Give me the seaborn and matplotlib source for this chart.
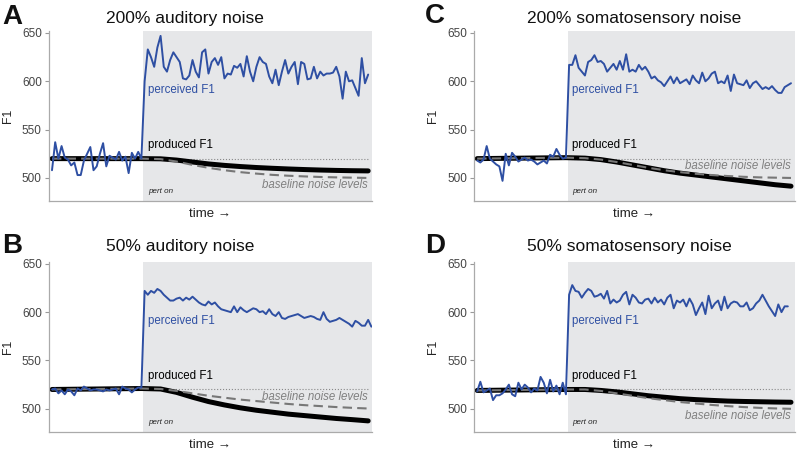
import numpy as np
import pandas as pd
import matplotlib
matplotlib.use('Agg')
import matplotlib.pyplot as plt
import seaborn as sns

sns.set_style('white')
plt.rcParams['font.family'] = ['Liberation Sans', 'DejaVu Sans']

PERT_ON = 29.5
BASE_F1 = 520

# perceived F1 per trial, before (29 trials) and after the perturbation
a_pre = [508, 537, 520, 533, 521, 519, 513, 516, 503, 503,
         518, 525, 532, 508, 512, 525, 536, 512, 523, 521,
         519, 527, 518, 522, 505, 526, 520, 527, 520]
a_post = [600, 633, 625, 615, 635, 647, 615, 610, 622, 630, 625,
          620, 603, 602, 606, 622, 610, 604, 630, 633, 608,
          620, 624, 617, 625, 603, 608, 607, 616, 614, 618,
          605, 626, 610, 600, 615, 625, 620, 618, 605, 598,
          612, 596, 610, 622, 608, 615, 620, 597, 620, 618,
          602, 603, 615, 603, 610, 606, 608, 608, 609, 615,
          605, 582, 610, 600, 601, 593, 585, 624, 598, 607]

b_pre = [520, 521, 516, 519, 515, 520, 518, 514, 521, 519,
         523, 521, 519, 520, 520, 519, 518, 520, 519, 520,
         521, 515, 523, 521, 520, 517, 520, 522, 522]
b_post = [622, 618, 622, 620, 624, 622, 618, 615, 612, 612, 614,
          615, 612, 615, 613, 616, 613, 610, 608, 607, 611,
          608, 610, 606, 603, 602, 601, 600, 606, 600, 605,
          602, 600, 602, 604, 603, 600, 601, 598, 603, 598,
          596, 600, 594, 593, 595, 596, 597, 598, 596, 594,
          595, 596, 595, 593, 592, 600, 593, 590, 591, 592,
          594, 592, 590, 588, 585, 591, 589, 586, 586, 592, 585]

c_pre = [518, 516, 519, 533, 520, 517, 514, 512, 497, 525,
         513, 526, 522, 517, 519, 521, 518, 519, 517, 514,
         516, 518, 515, 524, 522, 530, 524, 520, 521]
c_post = [617, 617, 627, 614, 610, 606, 620, 622, 627, 620, 621,
          618, 610, 614, 618, 612, 621, 612, 628, 610, 612,
          610, 617, 612, 615, 610, 603, 605, 601, 599, 595,
          600, 605, 598, 604, 598, 600, 602, 597, 606, 601,
          598, 609, 600, 603, 608, 610, 598, 600, 598, 606,
          590, 607, 598, 597, 596, 601, 593, 598, 600, 596,
          592, 594, 592, 595, 591, 588, 588, 594, 596, 598]

d_pre = [518, 528, 517, 519, 521, 509, 514, 514, 516, 520,
         525, 515, 513, 527, 520, 525, 522, 517, 521, 519,
         533, 527, 516, 530, 518, 524, 515, 527, 515]
d_post = [618, 628, 622, 621, 615, 620, 624, 622, 616, 617, 619,
          614, 622, 609, 613, 610, 612, 618, 621, 608, 618,
          615, 610, 609, 613, 614, 609, 615, 610, 613, 608,
          615, 618, 604, 612, 610, 613, 606, 614, 608, 597,
          604, 610, 598, 617, 604, 609, 612, 602, 616, 604,
          609, 611, 610, 606, 606, 610, 602, 604, 609, 612,
          618, 612, 606, 601, 596, 608, 600, 606, 606]

# smooth model curves, sampled at these trials
curve_trials = [1, 29, 35, 40, 45, 50, 55, 60, 65, 70, 75, 80, 85, 90, 95, 100]
a_produced = [520, 520, 519.8, 518.5, 516.5, 514.5, 513, 511.8, 510.8, 510, 509.3, 508.7, 508.2, 507.8, 507.5, 507.3]
a_baseline = [520, 520, 519.5, 517, 513.5, 510.5, 508, 506, 504.5, 503.2, 502.3, 501.6, 501.0, 500.6, 500.3, 500]
b_produced = [520, 521, 520.5, 517, 512, 507.5, 504, 501, 498.5, 496.5, 494.5, 493, 491.5, 490, 488.8, 487.5]
b_baseline = [520, 521, 520.5, 518.5, 516, 513.5, 511.5, 509.5, 508, 506.5, 505, 503.8, 502.8, 501.8, 501, 500.3]
c_produced = [520, 521, 520.5, 519, 516.5, 513.5, 510.5, 507.5, 505, 503, 501, 499, 497, 495, 493, 491.5]
c_baseline = [520, 521, 520.5, 519, 516.5, 513.5, 510.5, 508, 506, 504.3, 503, 502, 501.2, 500.6, 500.3, 500]
d_produced = [519, 520, 520, 519, 517.5, 515.5, 513.5, 512, 510.5, 509.5, 508.7, 508, 507.6, 507.3, 507, 506.8]
d_baseline = [519, 520, 520, 518.5, 516, 513.5, 511, 509, 507, 505.5, 504, 502.8, 501.8, 501, 500.4, 500]

BLUE = '#2e4fa3'
SHADE = '#e6e7e9'
GRAY = '#777777'


def draw_panel(ax, pre, post, produced, baseline, noise_y):
    '''
    One panel: shaded perturbation period, perceived/produced F1, baseline curve
    '''
    ax.axvspan(PERT_ON, 105, color=SHADE, lw=0, zorder=0)
    ax.plot([PERT_ON, 100], [BASE_F1, BASE_F1], ls=':', color='#888888', lw=0.8, zorder=1)

    trials = np.concatenate([np.arange(1, len(pre) + 1), np.arange(len(pre) + 1, len(pre) + len(post) + 1)])
    df = pd.DataFrame({'trial': trials, 'F1': pre + post})
    sns.lineplot(data=df, x='trial', y='F1', ax=ax, color=BLUE, lw=1.4, estimator=None, zorder=3)
    sns.lineplot(x=curve_trials, y=produced, ax=ax, color='black', lw=3.6, estimator=None, zorder=2)
    sns.lineplot(x=curve_trials, y=baseline, ax=ax, color=GRAY, lw=1.5, estimator=None,
                 linestyle=(0, (4.5, 2.5)), zorder=2.5)

    ax.text(31, 591, 'perceived F1', color=BLUE, fontsize=8.3, va='center')
    ax.text(31, 534, 'produced F1', color='black', fontsize=8.3, va='center')
    ax.text(100, noise_y, 'baseline noise levels', color='#808080', fontsize=8.3,
            style='italic', ha='right', va='center')
    ax.text(31, 485.5, 'pert on', color='#222222', fontsize=5.8, style='italic', va='center')

    ax.set_xlim(0, 101.2)
    ax.set_ylim(476, 652)
    ax.set_yticks([500, 550, 600, 650])
    ax.set_xticks([])
    ax.set_xlabel('time \u2192', fontsize=9.5, color='#222222', labelpad=5)
    ax.set_ylabel('F1', fontsize=8.8, color='#222222', labelpad=6)
    ax.tick_params(axis='y', which='both', left=True, length=3, width=0.8, color='#999999',
                   labelsize=8.5, labelcolor='#444444', pad=2)
    sns.despine(ax=ax)
    for side in ['left', 'bottom']:
        ax.spines[side].set_color('#aaaaaa')
        ax.spines[side].set_linewidth(0.9)


fig = plt.figure(figsize=(8, 4.5), dpi=100)
ax_a = fig.add_axes([0.061, 0.553, 0.404, 0.378])
ax_b = fig.add_axes([0.061, 0.040, 0.404, 0.378])
ax_c = fig.add_axes([0.5925, 0.553, 0.401, 0.378])
ax_d = fig.add_axes([0.5925, 0.040, 0.401, 0.378])

draw_panel(ax_a, a_pre, a_post, a_produced, a_baseline, 493)
draw_panel(ax_b, b_pre, b_post, b_produced, b_baseline, 512)
draw_panel(ax_c, c_pre, c_post, c_produced, c_baseline, 512)
draw_panel(ax_d, d_pre, d_post, d_produced, d_baseline, 493)

titles = ['200% auditory noise', '50% auditory noise',
          '200% somatosensory noise', '50% somatosensory noise']
letters = ['A', 'B', 'C', 'D']
title_pos = [(0.1325, 0.95), (0.1325, 0.442), (0.659, 0.95), (0.659, 0.442)]
letter_pos = [(0.003, 0.947), (0.003, 0.438), (0.531, 0.949), (0.531, 0.438)]

for t, (x, y) in zip(titles, title_pos):
    fig.text(x, y, t, fontsize=12.5, color='#111111', ha='left', va='baseline')
for l, (x, y) in zip(letters, letter_pos):
    fig.text(x, y, l, fontsize=20, fontweight='bold', color='#111111', ha='left', va='baseline')

fig.savefig('out.png', dpi=100)
